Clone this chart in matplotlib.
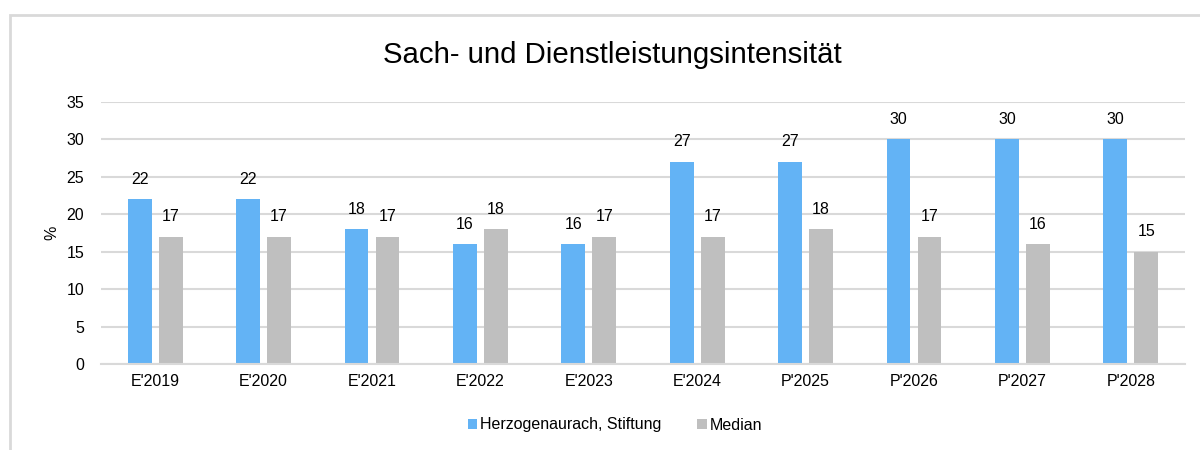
import numpy as np
import matplotlib
matplotlib.use('Agg')
import matplotlib.pyplot as plt
from matplotlib.patches import Rectangle

plt.rcParams['font.family'] = ['Liberation Sans', 'DejaVu Sans']

categories = ["E'2019", "E'2020", "E'2021", "E'2022", "E'2023",
              "E'2024", "P'2025", "P'2026", "P'2027", "P'2028"]
stiftung = [22, 22, 18, 16, 16, 27, 27, 30, 30, 30]
median = [17, 17, 17, 18, 17, 17, 18, 17, 16, 15]

blue = '#63b3f5'
grey = '#bfbfbf'
grid_col = '#d9d9d9'
fs = 11.5

fig = plt.figure(figsize=(12, 4.5), dpi=100)

# outer chart frame (cut off at right and bottom like the reference)
frame = Rectangle((10 / 1200, -0.1), 1.2, 1 - 15 / 450 + 0.1, transform=fig.transFigure,
                  fill=False, edgecolor=grid_col, linewidth=2, clip_on=False)
fig.patches.append(frame)

ax = fig.add_axes([101 / 1200, 1 - 364 / 450, (1185 - 101) / 1200, (364 - 102) / 450])

x = np.arange(len(categories))
w = 0.22
off = 0.143
b1 = ax.bar(x - off, stiftung, w, color=blue, label='Herzogenaurach, Stiftung', zorder=2)
b2 = ax.bar(x + off, median, w, color=grey, label='Median', zorder=2)

for bars, vals in ((b1, stiftung), (b2, median)):
    for rect, v in zip(bars, vals):
        ax.annotate(str(v), (rect.get_x() + rect.get_width() / 2, v),
                    xytext=(0, 9), textcoords='offset points',
                    ha='center', va='bottom', fontsize=fs, color='#000000')

ax.set_xlim(-0.5, len(categories) - 0.5)
ax.set_ylim(0, 35)
ax.set_yticks(range(0, 36, 5))
ax.set_xticks(x)
ax.set_xticklabels(categories)
ax.tick_params(axis='both', length=0, labelsize=fs, colors='#000000')
ax.tick_params(axis='y', pad=12)
ax.tick_params(axis='x', pad=7)
ax.yaxis.grid(True, color=grid_col, linewidth=1.5, zorder=0)
ax.set_axisbelow(True)
for s in ['top', 'right', 'left']:
    ax.spines[s].set_visible(False)
ax.spines['bottom'].set_color(grid_col)
ax.spines['bottom'].set_linewidth(1.5)

fig.text(52 / 1200, 1 - 233 / 450, '%', rotation=90, ha='center', va='center', fontsize=fs)
fig.text(612 / 1200, 1 - 55 / 450, 'Sach- und Dienstleistungsintensität',
         ha='center', va='center', fontsize=21.2)

fig.legend(loc='center', bbox_to_anchor=(615 / 1200, 1 - 425 / 450), ncol=2, frameon=False,
           fontsize=fs, handlelength=0.6, handleheight=0.6, handletextpad=0.2,
           columnspacing=2.2)

fig.savefig('out.png', dpi=100)
